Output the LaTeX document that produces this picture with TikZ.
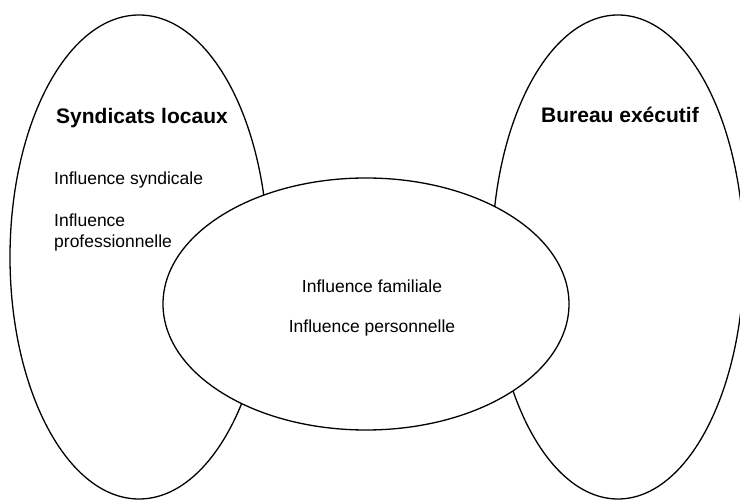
\documentclass[tikz,border=0pt]{standalone}
\usepackage{fontspec}
\setmainfont{Liberation Sans}
\usetikzlibrary{shapes.geometric}
\begin{document}
\begin{tikzpicture}[x=1pt,y=-1pt,
  group/.style={draw=black, line width=1.3pt, ellipse, inner sep=0pt},
  title/.style={font=\fontsize{21}{25}\selectfont\bfseries, inner sep=0pt},
  item/.style={font=\fontsize{17.5}{21}\selectfont, inner sep=0pt, align=left}]
  \useasboundingbox (0,0) rectangle (740,502);
  % the two outer groups
  \node[group, minimum width=258pt, minimum height=484pt] (local) at (139,257) {};
  \node[group, minimum width=252pt, minimum height=484pt] (exec) at (618,257) {};
  % shared area in the middle, painted over the outer outlines
  \node[group, fill=white, minimum width=406pt, minimum height=252pt] (shared) at (366,304) {};
  % labels
  \node[title, anchor=base] (tlocal) at (142,124) {Syndicats locaux};
  \node[title, anchor=base] (texec) at (620,123) {Bureau exécutif};
  \node[item, anchor=base west] (syn) at (54,185) {Influence syndicale};
  \node[item, anchor=base west] (pro1) at (54,227) {Influence};
  \node[item, anchor=base west] (pro2) at (54,248) {professionnelle};
  \node[item, anchor=base] (fam) at (372,293) {Influence familiale};
  \node[item, anchor=base] (pers) at (372,333) {Influence personnelle};
\end{tikzpicture}
\end{document}
